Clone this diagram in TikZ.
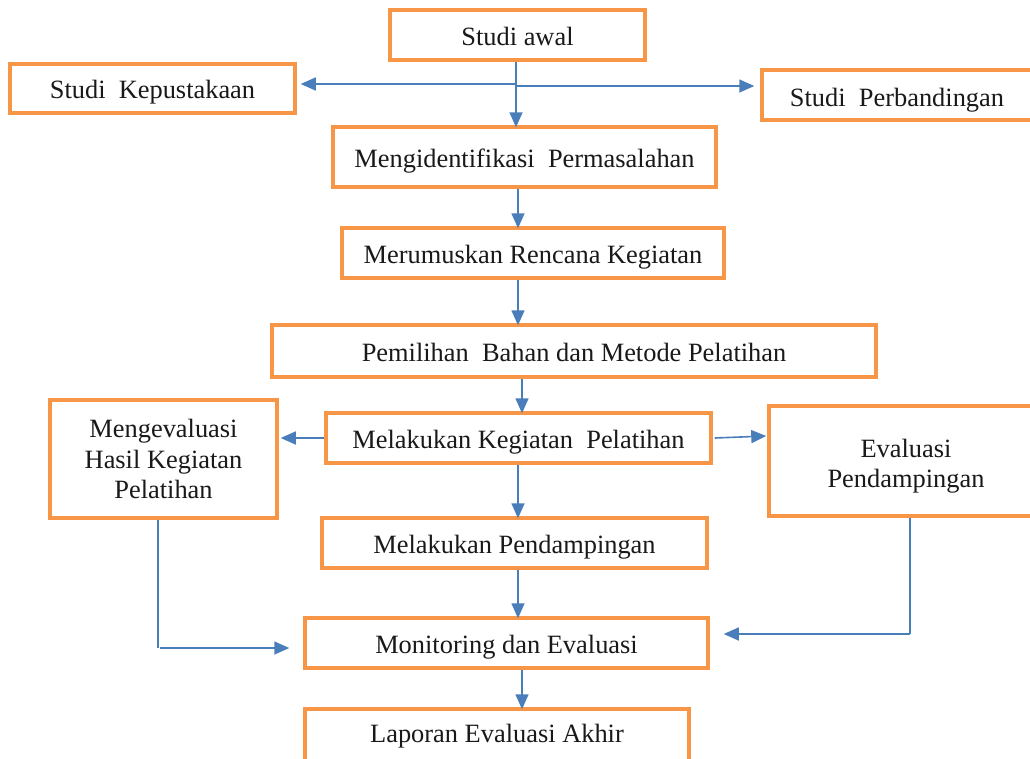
\documentclass[tikz,border=0pt]{standalone}
\usepackage{fontspec}
\setmainfont{Liberation Serif}
\usetikzlibrary{arrows.meta}
\definecolor{boxor}{HTML}{F79646}
\definecolor{arrbl}{HTML}{4A7EBB}
\begin{document}
\begin{tikzpicture}[x=1pt,y=-1pt,
  txt/.style={font=\fontsize{26.4}{30.5}\selectfont,text=black!90,align=center},
  one/.style={text height=22pt,text depth=2pt},
  box/.style={draw=boxor,line width=3.5pt,rectangle,inner sep=0pt,txt},
  arr/.style={draw=arrbl,line width=1.6pt,-{Triangle[length=15pt,width=13pt]}},
  ln/.style={draw=arrbl,line width=1.6pt}]
\useasboundingbox (0,0) rectangle (1030,758);
\clip (0,0) rectangle (1030,758);
\fill[white] (0,0) rectangle (1030,758);
% boxes
\node[box,one,minimum width=255pt,minimum height=50pt] (sa) at (517.5,35) {Studi awal};
\node[box,one,minimum width=285pt,minimum height=49pt] (sk) at (152.5,88.5) {Studi\hspace{0.25em} Kepustakaan};
\node[box,minimum width=290pt,minimum height=50pt] (sp) at (907,95) {};
\node[txt,one] (spt) at (897,96) {Studi\hspace{0.25em} Perbandingan};
\node[box,one,minimum width=383pt,minimum height=60pt] (mi) at (524.5,157) {Mengidentifikasi\hspace{0.25em} Permasalahan};
\node[box,one,minimum width=382pt,minimum height=50pt] (mr) at (533,253) {Merumuskan Rencana Kegiatan};
\node[box,one,minimum width=604pt,minimum height=52pt] (pb) at (574,351) {Pemilihan\hspace{0.25em} Bahan dan Metode Pelatihan};
\node[box,one,minimum width=385pt,minimum height=50pt] (mk) at (518.5,438) {Melakukan Kegiatan\hspace{0.25em} Pelatihan};
\node[box,minimum width=227pt,minimum height=118pt] (me) at (163.5,459) {Mengevaluasi\\Hasil Kegiatan\\Pelatihan};
\node[box,minimum width=290pt,minimum height=110pt] (ep) at (914,461) {};
\node[txt] (ept) at (906,466) {Evaluasi\\Pendampingan};
\node[box,one,minimum width=385pt,minimum height=50pt] (mp) at (514.5,543) {Melakukan Pendampingan};
\node[box,one,minimum width=403pt,minimum height=50pt] (mo) at (506.5,643) {Monitoring dan Evaluasi};
\node[box,minimum width=384pt,minimum height=60pt] (la) at (497,739) {};
\node[txt,one] (lat) at (497,732) {Laporan Evaluasi Akhir};
% coordinates
\coordinate (x516) at (516,0);
\coordinate (x518) at (518,0);
\coordinate (x522) at (522,0);
\coordinate (y84) at (0,84);
\coordinate (y86) at (0,86);
\coordinate (x158) at (158,0);
\coordinate (x910) at (910,0);
\coordinate (y648) at (0,648);
\coordinate (y634) at (0,634);
\coordinate (pL) at (160,648);
\coordinate (pR) at (910,634);
% arrows
\draw[arr] (sa.south -| x516) -- ([yshift=-2pt]mi.north -| x516);
\draw[arr] (x516 |- y84) -- ([xshift=4pt]sk.east |- y84);
\draw[arr] (x516 |- y86) -- ([xshift=-6pt]sp.west |- y86);
\draw[arr] (mi.south -| x518) -- ([yshift=-2pt]mr.north -| x518);
\draw[arr] (mr.south -| x518) -- ([yshift=-2pt]pb.north -| x518);
\draw[arr] (pb.south -| x522) -- ([yshift=-2pt]mk.north -| x522);
\draw[arr] (mk.west) -- ([xshift=2pt]me.east |- mk.west);
\draw[arr] ([xshift=2pt]mk.east) -- ([xshift=-1pt,yshift=2pt]ep.west |- mk.east);
\draw[arr] (mk.south -| x518) -- ([yshift=-2pt]mp.north -| x518);
\draw[arr] (mp.south -| x518) -- ([yshift=-2pt]mo.north -| x518);
\draw[arr] (mo.south -| x522) -- ([yshift=-2pt]la.north -| x522);
\draw[ln] (me.south -| x158) -- (x158 |- y648);
\draw[arr] (pL) -- ([xshift=-14pt]mo.west |- y648);
\draw[ln] (ep.south -| x910) -- (pR);
\draw[arr] (pR) -- ([xshift=14pt]mo.east |- y634);
\end{tikzpicture}
\end{document}
